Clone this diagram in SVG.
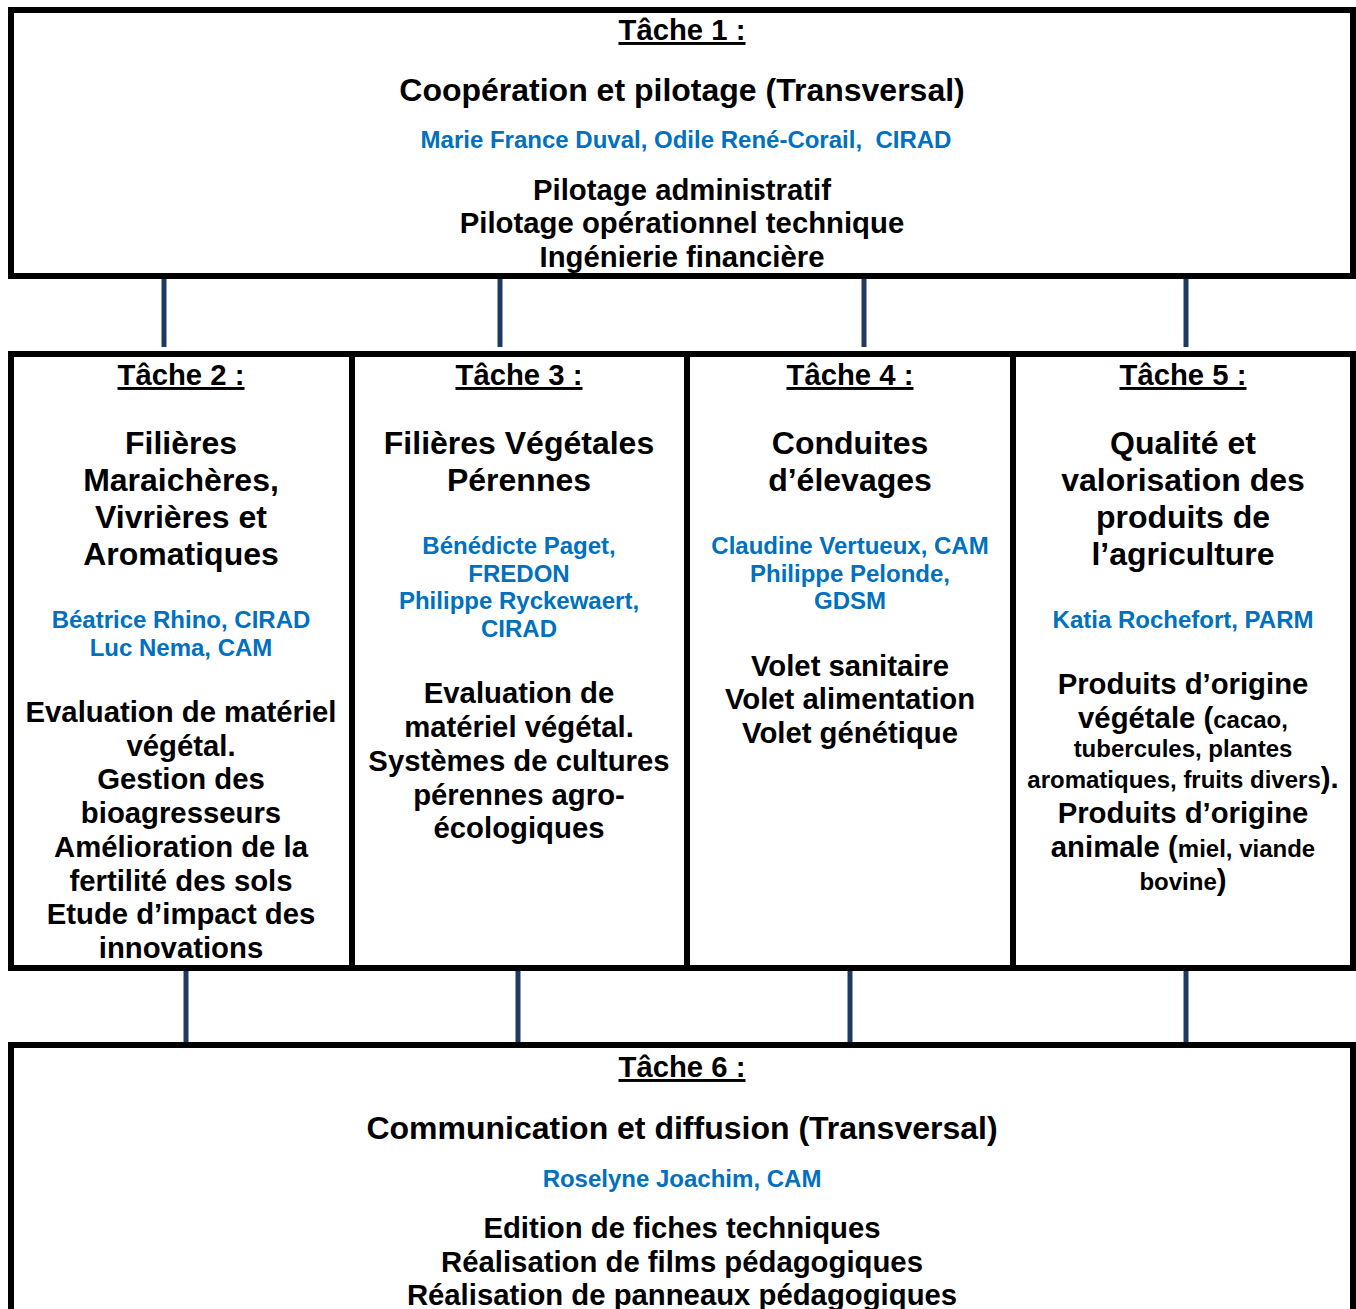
<svg xmlns="http://www.w3.org/2000/svg" width="1356" height="1309" viewBox="0 0 1356 1309">
<style>
text{font-family:"Liberation Sans",Arial,sans-serif;font-weight:bold;fill:#000;text-anchor:middle}
.h{font-size:29.3px;text-decoration:underline}
.t{font-size:32px}
.b{font-size:24px;fill:#0070C0}
.x{font-size:29.3px}
.s{font-size:24px}
.box{fill:#fff;stroke:#000;stroke-width:6}
.c{stroke:#1F3A60;stroke-width:5;fill:none}
</style>
<rect width="1356" height="1309" fill="#fff"/>
<g id="connectors">
<line class="c" x1="164" y1="272" x2="164" y2="347"/>
<line class="c" x1="500" y1="272" x2="500" y2="347"/>
<line class="c" x1="864" y1="272" x2="864" y2="347"/>
<line class="c" x1="1186" y1="272" x2="1186" y2="347"/>
<line class="c" x1="186" y1="967" x2="186" y2="1042"/>
<line class="c" x1="518" y1="967" x2="518" y2="1042"/>
<line class="c" x1="850" y1="967" x2="850" y2="1042"/>
<line class="c" x1="1186" y1="967" x2="1186" y2="1042"/>
</g>
<g id="tache1">
<rect class="box" x="11" y="10" width="1342" height="266"/>
<text class="h" x="682" y="40">Tâche 1 :</text>
<text class="t" x="682" y="101">Coopération et pilotage (Transversal)</text>
<text class="b" x="686" y="148" xml:space="preserve">Marie France Duval, Odile René-Corail,  CIRAD</text>
<text class="x" x="682" y="200">Pilotage administratif</text>
<text class="x" x="682" y="233">Pilotage opérationnel technique</text>
<text class="x" x="682" y="267">Ingénierie financière</text>
</g>
<g id="row">
<rect class="box" x="11" y="354" width="1342" height="614"/>
<line stroke="#000" stroke-width="6" x1="352" y1="354" x2="352" y2="968"/>
<line stroke="#000" stroke-width="6" x1="687" y1="354" x2="687" y2="968"/>
<line stroke="#000" stroke-width="6" x1="1013" y1="354" x2="1013" y2="968"/>
</g>
<g id="tache2">
<text class="h" x="181" y="385">Tâche 2 :</text>
<text class="t" x="181" y="454">Filières</text>
<text class="t" x="181" y="491">Maraichères,</text>
<text class="t" x="181" y="528">Vivrières et</text>
<text class="t" x="181" y="565">Aromatiques</text>
<text class="b" x="181" y="628">Béatrice Rhino, CIRAD</text>
<text class="b" x="181" y="656">Luc Nema, CAM</text>
<text class="x" x="181" y="722">Evaluation de matériel</text>
<text class="x" x="181" y="756">végétal.</text>
<text class="x" x="181" y="789">Gestion des</text>
<text class="x" x="181" y="823">bioagresseurs</text>
<text class="x" x="181" y="857">Amélioration de la</text>
<text class="x" x="181" y="891">fertilité des sols</text>
<text class="x" x="181" y="924">Etude d’impact des</text>
<text class="x" x="181" y="958">innovations</text>
</g>
<g id="tache3">
<text class="h" x="519" y="385">Tâche 3 :</text>
<text class="t" x="519" y="454">Filières Végétales</text>
<text class="t" x="519" y="491">Pérennes</text>
<text class="b" x="519" y="554">Bénédicte Paget,</text>
<text class="b" x="519" y="582">FREDON</text>
<text class="b" x="519" y="609">Philippe Ryckewaert,</text>
<text class="b" x="519" y="637">CIRAD</text>
<text class="x" x="519" y="703">Evaluation de</text>
<text class="x" x="519" y="737">matériel végétal.</text>
<text class="x" x="519" y="771">Systèmes de cultures</text>
<text class="x" x="519" y="805">pérennes agro-</text>
<text class="x" x="519" y="838">écologiques</text>
</g>
<g id="tache4">
<text class="h" x="850" y="385">Tâche 4 :</text>
<text class="t" x="850" y="454">Conduites</text>
<text class="t" x="850" y="491">d’élevages</text>
<text class="b" x="850" y="554">Claudine Vertueux, CAM</text>
<text class="b" x="850" y="582">Philippe Pelonde,</text>
<text class="b" x="850" y="609">GDSM</text>
<text class="x" x="850" y="676">Volet sanitaire</text>
<text class="x" x="850" y="709">Volet alimentation</text>
<text class="x" x="850" y="743">Volet génétique</text>
</g>
<g id="tache5">
<text class="h" x="1183" y="385">Tâche 5 :</text>
<text class="t" x="1183" y="454">Qualité et</text>
<text class="t" x="1183" y="491">valorisation des</text>
<text class="t" x="1183" y="528">produits de</text>
<text class="t" x="1183" y="565">l’agriculture</text>
<text class="b" x="1183" y="628">Katia Rochefort, PARM</text>
<text class="x" x="1183" y="694">Produits d’origine</text>
<text class="x" x="1183" y="728">végétale (<tspan class="s">cacao,</tspan></text>
<text class="s" x="1183" y="757">tubercules, plantes</text>
<text class="s" x="1183" y="788">aromatiques, fruits divers<tspan class="x">).</tspan></text>
<text class="x" x="1183" y="823">Produits d’origine</text>
<text class="x" x="1183" y="857">animale (<tspan class="s">miel, viande</tspan></text>
<text class="s" x="1183" y="890">bovine<tspan class="x">)</tspan></text>
</g>
<g id="tache6">
<rect class="box" x="11" y="1045" width="1342" height="300"/>
<text class="h" x="682" y="1077">Tâche 6 :</text>
<text class="t" x="682" y="1139">Communication et diffusion (Transversal)</text>
<text class="b" x="682" y="1187">Roselyne Joachim, CAM</text>
<text class="x" x="682" y="1238">Edition de fiches techniques</text>
<text class="x" x="682" y="1272">Réalisation de films pédagogiques</text>
<text class="x" x="682" y="1305">Réalisation de panneaux pédagogiques</text>
</g>
</svg>
